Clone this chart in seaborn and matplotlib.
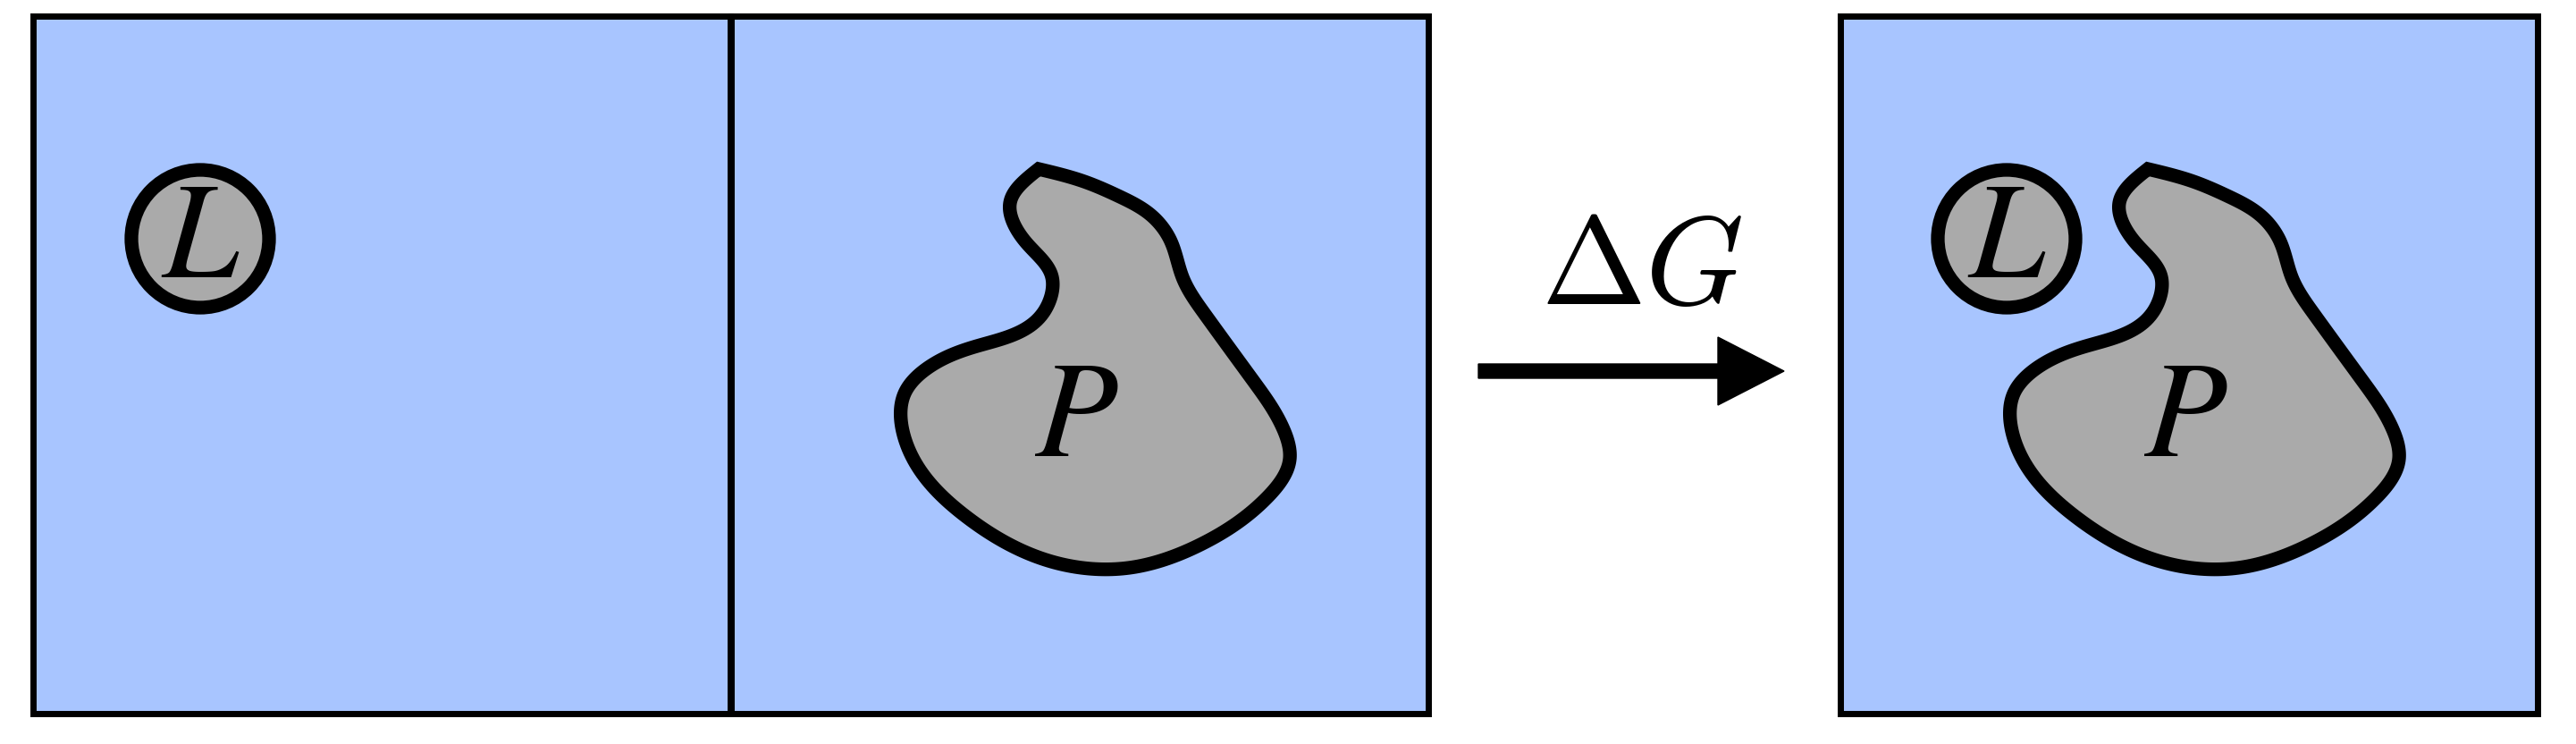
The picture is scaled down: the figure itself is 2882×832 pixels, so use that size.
import numpy as np
import matplotlib
matplotlib.use("Agg")
import matplotlib.pyplot as plt
from matplotlib.patches import Polygon, Rectangle, Circle, FancyArrow
import seaborn as sns

# ---- diagram data (pixel coordinates of a 2882x832 canvas) ----
box_left = [37, 818, 2059]
box_top = 18
box_size = 780

ligand_center_x = [224, 2245]
ligand_center_y = [267, 267]
ligand_radius = 77

protein_offset_x = [0, 1241]
protein_x = [1162, 1213, 1253, 1287, 1310, 1323, 1347, 1403, 1435, 1443,
             1417, 1347, 1263, 1173, 1080, 1013, 1012, 1040, 1093, 1167,
             1177, 1147, 1130, 1162]
protein_y = [189, 203, 220, 240, 270, 310, 350, 427, 478, 513,
             557, 607, 635, 627, 577, 493, 440, 410, 387, 350,
             310, 270, 227, 189]

label_L = "$L$"
label_P = "$P$"
label_dG = r"$\Delta G$"
protein_label_x = [1204, 2445]
protein_label_y = [468, 468]
dG_x, dG_y = 1837, 301
arrow_x0, arrow_x1, arrow_y = 1654, 1996, 415

BLUE = "#a8c5ff"
GREY = "#aaaaaa"

sns.set_theme(style="white")
plt.rcParams["mathtext.fontset"] = "stix"
plt.rcParams["font.family"] = ["DejaVu Sans"]

fig = plt.figure(figsize=(28.82, 8.32), dpi=100)
ax = fig.add_axes([0, 0, 1, 1])
ax.set_xlim(0, 2882)
ax.set_ylim(832, 0)
ax.set_axis_off()
fig.patch.set_facecolor("white")


def natural_spline(xs, ys, per_seg=24):
    """Smooth outline through the given points (chord-length natural cubic)."""
    P = np.column_stack([xs, ys]).astype(float)
    d = np.hypot(*np.diff(P, axis=0).T)
    t = np.concatenate([[0], np.cumsum(d)])
    n = len(t)
    h = np.diff(t)
    A = np.zeros((n, n))
    B = np.zeros((n, 2))
    A[0, 0] = A[-1, -1] = 1.0
    for i in range(1, n - 1):
        A[i, i - 1] = h[i - 1]
        A[i, i] = 2 * (h[i - 1] + h[i])
        A[i, i + 1] = h[i]
        B[i] = 6 * ((P[i + 1] - P[i]) / h[i] - (P[i] - P[i - 1]) / h[i - 1])
    M = np.linalg.solve(A, B)
    out = []
    for i in range(n - 1):
        s = np.linspace(0, h[i], per_seg, endpoint=False)[:, None]
        a = P[i]
        b = (P[i + 1] - P[i]) / h[i] - h[i] * (2 * M[i] + M[i + 1]) / 6
        c = M[i] / 2
        e = (M[i + 1] - M[i]) / (6 * h[i])
        out.append(a + b * s + c * s ** 2 + e * s ** 3)
    return np.vstack(out)


# boxes
for bx in box_left:
    ax.add_patch(Rectangle((bx, box_top), box_size, box_size, facecolor=BLUE,
                           edgecolor="black", linewidth=5, zorder=1))

# protein blobs
for off, lx, ly in zip(protein_offset_x, protein_label_x, protein_label_y):
    outline = natural_spline(np.array(protein_x) + off, protein_y)
    ax.add_patch(Polygon(outline, closed=True, facecolor=GREY, edgecolor="black",
                         linewidth=11, joinstyle="miter", zorder=2))
    ax.text(lx, ly, label_P, fontsize=110, ha="center", va="center",
            color="black", zorder=3)

# ligands
for cx, cy in zip(ligand_center_x, ligand_center_y):
    ax.add_patch(Circle((cx, cy), ligand_radius, facecolor=GREY,
                        edgecolor="black", linewidth=11, zorder=2))
    ax.text(cx, cy, label_L, fontsize=110, ha="center", va="center",
            color="black", zorder=3)

# arrow and delta G
ax.add_patch(FancyArrow(arrow_x0, arrow_y, arrow_x1 - arrow_x0, 0, width=16,
                        head_width=76, head_length=74, length_includes_head=True,
                        color="black", zorder=2))
ax.text(dG_x, dG_y, label_dG, fontsize=101, ha="center", va="center",
        color="black", math_fontfamily="cm", zorder=3)

fig.savefig("out.png", dpi=100, facecolor="white")
